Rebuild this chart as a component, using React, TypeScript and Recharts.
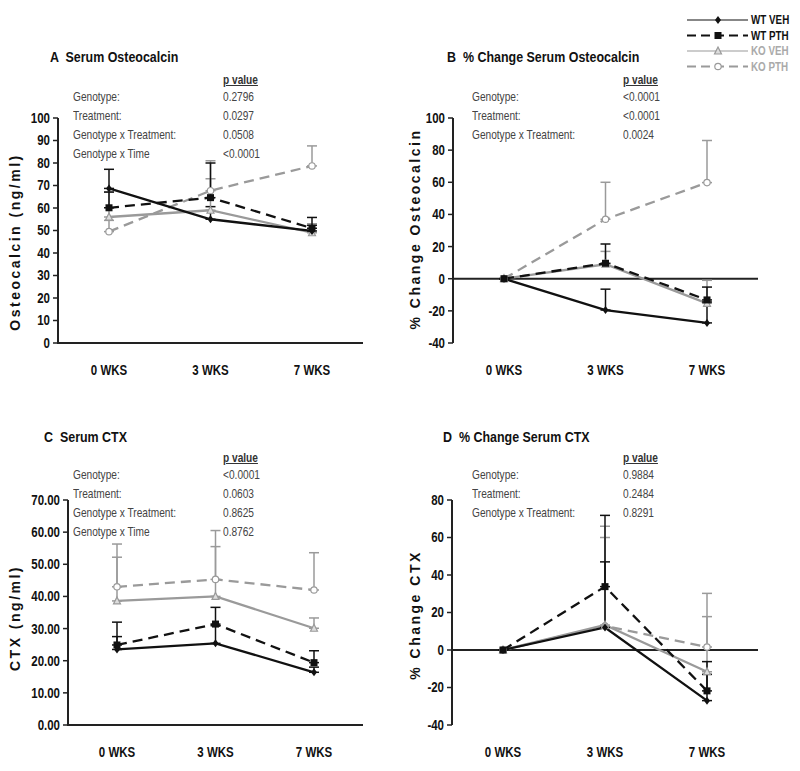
import React from "react";
import { LineChart, Line, XAxis, YAxis, ErrorBar, ReferenceLine } from "recharts";

const FONT = '"Liberation Sans", Arial, sans-serif';
const GREY = "#9a9a9a";
const SQUEEZE = 0.82;
const Y_AXIS_W = 50;
const X_AXIS_H = 30;

const weeks = ["0 WKS", "3 WKS", "7 WKS"];

// A: serum osteocalcin (ng/ml), mean and upper SEM
const wtVehA = [68.7, 55, 49.8];
const wtPthA = [60.1, 64.6, 51];
const koVehA = [56, 59, 49];
const koPthA = [49.5, 67.7, 78.7];
const wtVehAErr = [8.5, 5.6, 2.5];
const wtPthAErr = [7, 15.4, 4.8];
const koVehAErr = [11, 14, 4];
const koPthAErr = [5, 13.3, 8.9];

// B: % change osteocalcin
const wtVehB = [0, -19.5, -27.5];
const wtPthB = [0, 9.6, -13.2];
const koVehB = [0, 9, -15.3];
const koPthB = [0, 37, 59.8];
const wtVehBErr = [0, 13, 13];
const wtPthBErr = [0, 12, 8];
const koVehBErr = [0, 8, 14.3];
const koPthBErr = [0, 23, 26.2];

// C: serum CTX (ng/ml)
const wtVehC = [23.5, 25.4, 16.4];
const wtPthC = [24.9, 31.4, 19.4];
const koVehC = [38.6, 40, 30.1];
const koPthC = [43, 45.3, 42];
const wtVehCErr = [4, 5.5, 1.6];
const wtPthCErr = [7.1, 5.2, 3.7];
const koVehCErr = [13.6, 15.5, 3.2];
const koPthCErr = [13.3, 15.2, 11.6];

// D: % change CTX
const wtVehD = [0, 12, -27];
const wtPthD = [0, 33.8, -21.8];
const koVehD = [0, 13.3, -11.6];
const koPthD = [0, 12.8, 1.6];
const wtVehDErr = [0, 35, 14];
const wtPthDErr = [0, 38, 15.6];
const koVehDErr = [0, 46.7, 29.4];
const koPthDErr = [0, 53.2, 28.6];

const statsA = [["Genotype:", "0.2796"], ["Treatment:", "0.0297"], ["Genotype x Treatment:", "0.0508"], ["Genotype x Time", "<0.0001"]];
const statsB = [["Genotype:", "<0.0001"], ["Treatment:", "<0.0001"], ["Genotype x Treatment:", "0.0024"]];
const statsC = [["Genotype:", "<0.0001"], ["Treatment:", "0.0603"], ["Genotype x Treatment:", "0.8625"], ["Genotype x Time", "0.8762"]];
const statsD = [["Genotype:", "0.9884"], ["Treatment:", "0.2484"], ["Genotype x Treatment:", "0.8291"]];

const ticksA = [0, 10, 20, 30, 40, 50, 60, 70, 80, 90, 100];
const ticksB = [-40, -20, 0, 20, 40, 60, 80, 100];
const ticksC = [0, 10, 20, 30, 40, 50, 60, 70];
const ticksD = [-40, -20, 0, 20, 40, 60, 80];

// grey series first so the black ones sit on top
const series = [
  { key: "koPth", name: "KO PTH", color: GREY, dash: "10 6", shape: "circle" },
  { key: "koVeh", name: "KO VEH", color: GREY, dash: undefined, shape: "triangle" },
  { key: "wtPth", name: "WT PTH", color: "#111", dash: "10 6", shape: "square" },
  { key: "wtVeh", name: "WT VEH", color: "#111", dash: undefined, shape: "diamond" },
];

function buildRows(v: number[][], e: number[][]) {
  return weeks.map((week, i) => ({
    week,
    wtVeh: v[0][i], wtPth: v[1][i], koVeh: v[2][i], koPth: v[3][i],
    wtVehErr: [0, e[0][i]], wtPthErr: [0, e[1][i]], koVehErr: [0, e[2][i]], koPthErr: [0, e[3][i]],
  }));
}

const rowsA = buildRows([wtVehA, wtPthA, koVehA, koPthA], [wtVehAErr, wtPthAErr, koVehAErr, koPthAErr]);
const rowsB = buildRows([wtVehB, wtPthB, koVehB, koPthB], [wtVehBErr, wtPthBErr, koVehBErr, koPthBErr]);
const rowsC = buildRows([wtVehC, wtPthC, koVehC, koPthC], [wtVehCErr, wtPthCErr, koVehCErr, koPthCErr]);
const rowsD = buildRows([wtVehD, wtPthD, koVehD, koPthD], [wtVehDErr, wtPthDErr, koVehDErr, koPthDErr]);

function marker(shape: string, color: string, cx: number, cy: number, key?: string) {
  if (shape === "diamond")
    return <polygon key={key} points={`${cx},${cy - 4} ${cx + 3},${cy} ${cx},${cy + 4} ${cx - 3},${cy}`} fill={color} />;
  if (shape === "square")
    return <rect key={key} x={cx - 3.5} y={cy - 3.5} width={7} height={7} fill={color} />;
  if (shape === "triangle")
    return <polygon key={key} points={`${cx},${cy - 4} ${cx + 3.5},${cy + 3} ${cx - 3.5},${cy + 3}`} fill="#ddd" stroke={color} strokeWidth={1.2} />;
  return <circle key={key} cx={cx} cy={cy} r={3.2} fill="#fff" stroke={color} strokeWidth={1.2} />;
}

function LegendBox() {
  const order = [...series].reverse();
  return (
    <svg width={120} height={66} style={{ position: "absolute", left: 685, top: 12 }}>
      {order.map((s, i) => {
        const y = 8 + i * 15.5;
        return (
          <g key={s.key}>
            <line x1={2} x2={63} y1={y} y2={y} stroke={s.color} strokeWidth={s.dash ? 2 : 1.2} strokeDasharray={s.dash ? "9 5" : undefined} />
            {marker(s.shape, s.color, 33, y)}
            <text transform={`translate(66,${y + 4}) scale(${SQUEEZE},1)`} fontFamily={FONT} fontWeight={700} fontSize={12} fill={s.color === GREY ? "#aaa" : "#111"}>
              {s.name}
            </text>
          </g>
        );
      })}
    </svg>
  );
}

function XTick(props: any) {
  const { x, y, payload } = props;
  return (
    <text transform={`translate(${x},${y}) scale(${SQUEEZE},1)`} dy="0.71em" textAnchor="middle" fontFamily={FONT} fontWeight={700} fontSize={14} fill="#111">
      {payload.value}
    </text>
  );
}

function makeYTick(decimals: number) {
  return (props: any) => {
    const { x, y, payload } = props;
    return (
      <text transform={`translate(${x},${y}) scale(${SQUEEZE},1)`} dy="0.355em" textAnchor="end" fontFamily={FONT} fontWeight={700} fontSize={14} fill="#111">
        {Number(payload.value).toFixed(decimals)}
      </text>
    );
  };
}

interface PanelProps {
  left: number;
  top: number;
  height: number;
  margin: { top: number; right: number; bottom: number; left: number };
  rows: ReturnType<typeof buildRows>;
  domain: [number, number];
  ticks: number[];
  decimals?: number;
  zeroLine?: boolean;
}

function Panel({ left, top, height, margin, rows, domain, ticks, decimals = 0, zeroLine }: PanelProps) {
  const plotLeft = margin.left + Y_AXIS_W;
  const plotRight = 400 - margin.right;
  const plotBottom = height - margin.bottom - X_AXIS_H;
  // half a category band on each side, so points sit at band centres
  const half = Math.round((plotRight - plotLeft) / 6);
  return (
    <>
      <div style={{ position: "absolute", left, top }}>
        <LineChart width={400} height={height} data={rows} margin={margin}>
          <XAxis
            dataKey="week"
            padding={{ left: half, right: half }}
            height={X_AXIS_H}
            interval={0}
            axisLine={zeroLine ? false : { stroke: "#222", strokeWidth: 2 }}
            tickLine={false}
            tickSize={0}
            tickMargin={22}
            tick={<XTick />}
          />
          <YAxis
            type="number"
            domain={domain}
            ticks={ticks}
            interval={0}
            width={Y_AXIS_W}
            allowDataOverflow
            axisLine={{ stroke: "#222", strokeWidth: 2 }}
            tickLine={{ stroke: "#222", strokeWidth: 1.5 }}
            tickSize={5}
            tickMargin={3}
            tick={makeYTick(decimals)}
          />
          {zeroLine && <ReferenceLine y={0} stroke="#222" strokeWidth={2} />}
          {series.map((s) => (
            <Line
              key={s.key}
              dataKey={s.key}
              name={s.name}
              type="linear"
              stroke={s.color}
              strokeWidth={2.3}
              strokeDasharray={s.dash}
              isAnimationActive={false}
              activeDot={false}
              dot={(p: any) => marker(s.shape, s.color, p.cx, p.cy, `${s.key}-${p.index}`)}
            >
              <ErrorBar dataKey={`${s.key}Err`} direction="y" width={5} stroke={s.color} strokeWidth={1.5} isAnimationActive={false} />
            </Line>
          ))}
        </LineChart>
      </div>
      {/* bottom axis rule for the absolute-value panels */}
      {!zeroLine && (
        <div
          style={{
            position: "absolute", zIndex: 5, left: left + plotLeft - 1, top: top + plotBottom - 1,
            width: plotRight - plotLeft + 1, height: 0, borderTop: "2px solid #222",
          }}
        />
      )}
    </>
  );
}

const squeezed = (s: number): React.CSSProperties => ({ transform: `scaleX(${s})`, transformOrigin: "0 50%" });

function Stats({ x, y, valueX, rows }: { x: number; y: number; valueX: number; rows: string[][] }) {
  const base: React.CSSProperties = { position: "absolute", fontFamily: FONT, fontSize: 13, color: "#444", lineHeight: "14px", whiteSpace: "pre", ...squeezed(0.78) };
  return (
    <>
      <div style={{ ...base, left: valueX, top: y - 7, fontWeight: 700, color: "#333", textDecoration: "underline" }}>p value</div>
      {rows.map((r, i) => (
        <React.Fragment key={r[0]}>
          <div style={{ ...base, left: x, top: y + 17 + i * 19 - 7 }}>{r[0]}</div>
          <div style={{ ...base, left: valueX, top: y + 17 + i * 19 - 7 }}>{r[1]}</div>
        </React.Fragment>
      ))}
    </>
  );
}

function Title({ x, y, text }: { x: number; y: number; text: string }) {
  return (
    <div style={{ position: "absolute", left: x, top: y - 9, fontFamily: FONT, fontWeight: 700, fontSize: 15, lineHeight: "18px", color: "#111", whiteSpace: "pre", ...squeezed(0.83) }}>
      {text}
    </div>
  );
}

function AxisTitle({ x, y, text }: { x: number; y: number; text: string }) {
  return (
    <div
      style={{
        position: "absolute", left: x, top: y, transform: "translate(-50%, -50%) rotate(-90deg)",
        fontFamily: FONT, fontWeight: 700, fontSize: 14, letterSpacing: 2.5, color: "#111", whiteSpace: "pre",
      }}
    >
      {text}
    </div>
  );
}

export default function App() {
  return (
    <div style={{ position: "absolute", left: 0, top: 0, width: 800, height: 771, background: "#fff", overflow: "hidden" }}>
      <Panel left={0} top={0} height={390} margin={{ top: 118, right: 37, bottom: 17, left: 8 }} rows={rowsA} domain={[0, 100]} ticks={ticksA} />
      <Panel left={400} top={0} height={390} margin={{ top: 118, right: 42, bottom: 17, left: 3 }} rows={rowsB} domain={[-40, 100]} ticks={ticksB} zeroLine />
      <Panel left={0} top={390} height={381} margin={{ top: 110, right: 37, bottom: 16, left: 18 }} rows={rowsC} domain={[0, 70]} ticks={ticksC} decimals={2} />
      <Panel left={400} top={390} height={381} margin={{ top: 110, right: 42, bottom: 16, left: 2 }} rows={rowsD} domain={[-40, 80]} ticks={ticksD} zeroLine />

      <LegendBox />

      <Title x={50} y={57} text="A  Serum Osteocalcin" />
      <Title x={447} y={57} text="B  % Change Serum Osteocalcin" />
      <Title x={44} y={437} text="C  Serum CTX" />
      <Title x={443} y={437} text="D  % Change Serum CTX" />

      <Stats x={73} y={80} valueX={223} rows={statsA} />
      <Stats x={472} y={80} valueX={623} rows={statsB} />
      <Stats x={73} y={458} valueX={223} rows={statsC} />
      <Stats x={472} y={458} valueX={623} rows={statsD} />

      <AxisTitle x={15} y={242} text="Osteocalcin (ng/ml)" />
      <AxisTitle x={415} y={229} text="% Change Osteocalcin" />
      <AxisTitle x={15} y={618} text="CTX (ng/ml)" />
      <AxisTitle x={415} y={615} text="% Change CTX" />
    </div>
  );
}
